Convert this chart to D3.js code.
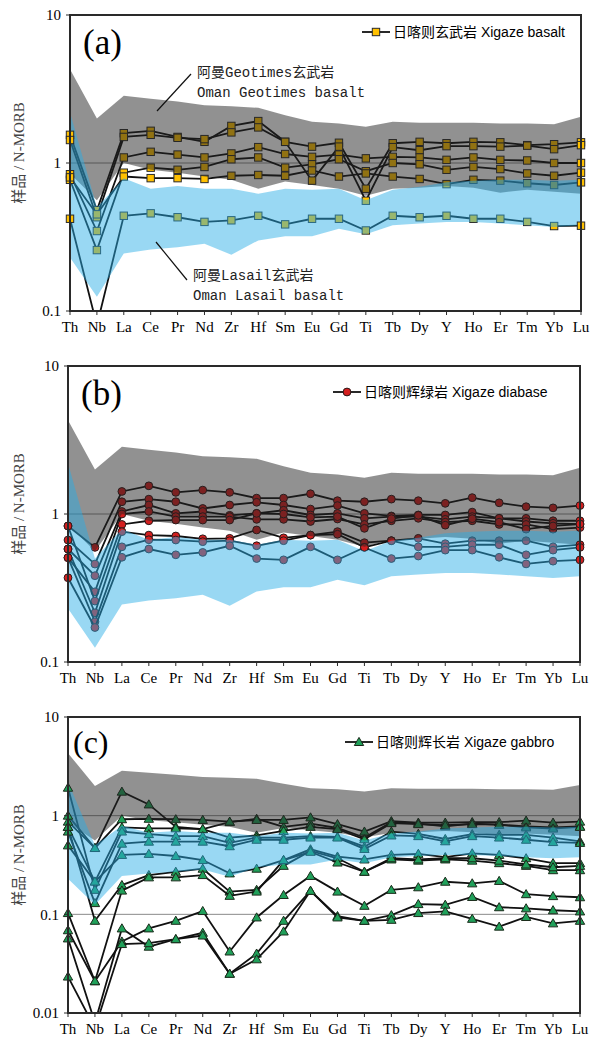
<!DOCTYPE html>
<html>
<head>
<meta charset="utf-8">
<script src="https://cdn.jsdelivr.net/npm/d3@7"></script>
<style>
  body { margin: 0; background: #fff; }
  svg { display: block; }
</style>
</head>
<body>
<div id="chart"></div>
<script>
const elements = ["Th", "Nb", "La", "Ce", "Pr", "Nd", "Zr", "Hf", "Sm", "Eu", "Gd", "Ti", "Tb", "Dy", "Y", "Ho", "Er", "Tm", "Yb", "Lu"];

// reference fields (same in all three panels)
const geotimesUpper = [4.3, 2.0, 2.85, 2.72, 2.6, 2.46, 2.42, 2.36, 2.1, 1.9, 1.85, 1.76, 1.9, 1.87, 1.87, 1.87, 1.85, 1.85, 1.83, 2.05];
const geotimesLower = [0.85, 0.56, 1.0, 0.9, 0.86, 0.81, 0.77, 0.67, 0.75, 0.71, 0.67, 0.6, 0.67, 0.68, 0.7, 0.68, 0.63, 0.66, 0.64, 0.62];
const lasailUpper = [2.2, 0.5, 0.79, 0.67, 0.7, 0.67, 0.67, 0.62, 0.67, 0.66, 0.67, 0.56, 0.66, 0.69, 0.74, 0.76, 0.77, 0.77, 0.76, 0.77];
const lasailLower = [0.23, 0.125, 0.245, 0.26, 0.27, 0.285, 0.24, 0.3, 0.32, 0.32, 0.36, 0.33, 0.38, 0.39, 0.4, 0.4, 0.39, 0.38, 0.37, 0.38];

// (a) Xigaze basalt
const basaltSeries = [
  [1.55, 0.48, 1.59, 1.65, 1.50, 1.39, 1.78, 1.92, 1.39, 1.29, 1.37, 0.67, 1.36, 1.39, 1.36, 1.39, 1.38, 1.32, 1.34, 1.38],
  [1.43, 0.43, 1.50, 1.55, 1.48, 1.45, 1.61, 1.74, 1.39, 0.76, 1.29, 0.556, 1.28, 1.22, 1.30, 1.30, 1.29, 1.31, 1.24, 1.32],
  [0.84, 0.347, 1.09, 1.19, 1.14, 1.09, 1.16, 1.28, 1.15, 1.10, 1.14, 1.075, 1.10, 1.09, 1.05, 1.09, 1.05, 1.04, 1.0, 1.0],
  [0.77, 0.258, 0.86, 0.93, 0.90, 0.94, 1.06, 1.09, 0.93, 0.98, 1.06, 0.88, 1.0, 0.98, 0.90, 0.94, 0.91, 0.85, 0.82, 0.86],
  [0.80, 0.45, 0.81, 0.79, 0.79, 0.78, 0.82, 0.83, 0.82, 0.89, 0.81, 0.85, 0.81, 0.78, 0.72, 0.77, 0.76, 0.73, 0.71, 0.74],
  [0.42, 0.08, 0.44, 0.457, 0.43, 0.40, 0.41, 0.44, 0.385, 0.42, 0.42, 0.35, 0.44, 0.43, 0.44, 0.42, 0.42, 0.40, 0.375, 0.377]
];

// (b) Xigaze diabase
const diabaseSeries = [
  [0.83, 0.595, 1.42, 1.55, 1.40, 1.45, 1.40, 1.28, 1.28, 1.37, 1.23, 1.21, 1.26, 1.23, 1.18, 1.29, 1.19, 1.12, 1.10, 1.14],
  [0.667, 0.459, 1.21, 1.26, 1.21, 1.09, 1.15, 1.20, 1.15, 1.08, 1.14, 1.01, 0.97, 0.985, 0.985, 1.03, 0.935, 0.935, 0.90, 0.90],
  [0.58, 0.383, 1.04, 1.15, 1.01, 1.04, 0.98, 1.01, 1.06, 0.985, 1.01, 0.935, 0.96, 0.96, 0.92, 0.96, 0.935, 0.89, 0.865, 0.855],
  [0.507, 0.298, 1.00, 1.04, 0.96, 0.96, 0.96, 0.92, 0.92, 0.89, 0.925, 0.85, 0.90, 0.935, 0.88, 0.90, 0.85, 0.85, 0.79, 0.81],
  [0.83, 0.258, 0.85, 0.90, 0.91, 0.91, 0.91, 1.01, 1.00, 0.95, 0.96, 0.80, 0.93, 0.98, 0.84, 0.93, 0.88, 0.79, 0.83, 0.855],
  [0.58, 0.215, 0.76, 0.72, 0.71, 0.68, 0.685, 0.78, 0.69, 0.72, 0.76, 0.64, 0.66, 0.685, 0.63, 0.66, 0.66, 0.66, 0.60, 0.62],
  [0.507, 0.187, 0.60, 0.67, 0.667, 0.65, 0.66, 0.61, 0.66, 0.72, 0.73, 0.595, 0.66, 0.60, 0.60, 0.62, 0.62, 0.53, 0.57, 0.595],
  [0.371, 0.171, 0.51, 0.58, 0.53, 0.55, 0.61, 0.50, 0.49, 0.60, 0.49, 0.595, 0.50, 0.52, 0.57, 0.57, 0.51, 0.46, 0.48, 0.49]
];

// (c) Xigaze gabbro
const gabbroSeries = [
  [0.87, 0.47, 1.75, 1.30, 0.77, 0.73, 0.86, 0.93, 0.77, 0.83, 0.75, 0.60, 0.86, 0.83, 0.78, 0.83, 0.81, 0.78, 0.76, 0.78],
  [1.0, 0.47, 0.92, 0.93, 0.92, 0.905, 0.87, 0.905, 0.905, 0.96, 0.82, 0.69, 0.88, 0.85, 0.85, 0.86, 0.86, 0.89, 0.85, 0.87],
  [0.77, 0.215, 0.76, 0.745, 0.745, 0.73, 0.60, 0.63, 0.70, 0.77, 0.73, 0.576, 0.84, 0.82, 0.80, 0.82, 0.81, 0.76, 0.74, 0.77],
  [1.92, 0.177, 0.69, 0.65, 0.62, 0.62, 0.53, 0.60, 0.60, 0.62, 0.61, 0.485, 0.69, 0.655, 0.58, 0.65, 0.64, 0.64, 0.60, 0.55],
  [0.69, 0.13, 0.52, 0.545, 0.545, 0.545, 0.49, 0.57, 0.57, 0.60, 0.60, 0.46, 0.63, 0.62, 0.55, 0.62, 0.60, 0.57, 0.54, 0.53],
  [0.50, 0.215, 0.40, 0.41, 0.39, 0.355, 0.26, 0.29, 0.355, 0.456, 0.385, 0.36, 0.40, 0.41, 0.38, 0.415, 0.40, 0.37, 0.33, 0.33],
  [0.77, 0.086, 0.198, 0.25, 0.27, 0.29, 0.17, 0.177, 0.31, 0.44, 0.37, 0.27, 0.36, 0.35, 0.36, 0.35, 0.33, 0.31, 0.28, 0.28],
  [0.103, 0.021, 0.174, 0.237, 0.237, 0.25, 0.154, 0.17, 0.355, 0.43, 0.335, 0.27, 0.37, 0.36, 0.37, 0.37, 0.35, 0.32, 0.30, 0.31],
  [0.069, 0.021, 0.053, 0.072, 0.086, 0.108, 0.042, 0.093, 0.157, 0.245, 0.17, 0.122, 0.177, 0.188, 0.214, 0.206, 0.218, 0.16, 0.153, 0.149],
  [0.057, 0.008, 0.072, 0.047, 0.056, 0.065, 0.025, 0.04, 0.086, 0.173, 0.096, 0.086, 0.098, 0.127, 0.125, 0.15, 0.118, 0.115, 0.11, 0.107],
  [0.0234, 0.007, 0.05, 0.051, 0.056, 0.061, 0.025, 0.035, 0.067, 0.173, 0.093, 0.086, 0.088, 0.103, 0.107, 0.09, 0.075, 0.094, 0.081, 0.086]
];

const panels = [
  { id: "a", label: "(a)", series: basaltSeries, marker: "square", color: "#ffc000",
    legend: "日喀则玄武岩 Xigaze basalt", left: 70, right: 581, top: 15, bottom: 311, yMin: 0.1,
    legendX: 362, legendY: 32, labelX: 83, labelY: 54, labelSize: 35 },
  { id: "b", label: "(b)", series: diabaseSeries, marker: "circle", color: "#d41f1f",
    legend: "日喀则辉绿岩 Xigaze diabase", left: 68, right: 580, top: 366, bottom: 662, yMin: 0.1,
    legendX: 333, legendY: 392, labelX: 81, labelY: 405, labelSize: 35 },
  { id: "c", label: "(c)", series: gabbroSeries, marker: "triangle", color: "#20a05a",
    legend: "日喀则辉长岩 Xigaze gabbro", left: 68, right: 580, top: 717, bottom: 1013, yMin: 0.01,
    legendX: 345, legendY: 742, labelX: 73, labelY: 753, labelSize: 32 }
];

const serif = "'Liberation Serif', 'Times New Roman', serif";
const sans = "'Liberation Sans', Arial, 'Noto Sans CJK SC', sans-serif";

const svg = d3.select("#chart")
  .append("svg")
  .attr("width", 591)
  .attr("height", 1039);

function drawMarker(sel, type, color, cx, cy) {
  if (type === "square") {
    sel.append("rect")
      .attr("x", cx - 3.7).attr("y", cy - 3.7)
      .attr("width", 7.4).attr("height", 7.4)
      .attr("fill", color).attr("stroke", "#2a2a2a").attr("stroke-width", 1);
  } else if (type === "circle") {
    sel.append("circle")
      .attr("cx", cx).attr("cy", cy).attr("r", 3.9)
      .attr("fill", color).attr("stroke", "#2a1a1a").attr("stroke-width", 1);
  } else {
    sel.append("path")
      .attr("d", d3.symbol(d3.symbolTriangle, 38)())
      .attr("transform", `translate(${cx},${cy + 0.8})`)
      .attr("fill", color).attr("stroke", "#1a2a1a").attr("stroke-width", 1);
  }
}

panels.forEach(p => {
  const x = d3.scalePoint().domain(elements).range([p.left, p.right]);
  const y = d3.scaleLog().domain([p.yMin, 10]).range([p.bottom, p.top]);
  const ticks = p.yMin === 0.01 ? [10, 1, 0.1, 0.01] : [10, 1, 0.1];
  const g = svg.append("g");

  svg.append("clipPath").attr("id", "clip" + p.id)
    .append("rect")
    .attr("x", p.left - 10).attr("y", p.top)
    .attr("width", p.right - p.left + 20).attr("height", p.bottom - p.top);

  // gridlines
  g.selectAll(".grid")
    .data(ticks.filter(t => t < 10 && t > p.yMin))
    .enter().append("line")
    .attr("x1", p.left).attr("x2", p.right)
    .attr("y1", d => y(d)).attr("y2", d => y(d))
    .attr("stroke", "#8a8a8a").attr("stroke-width", 1);

  const line = d3.line()
    .x((d, i) => x(elements[i]))
    .y(d => y(d));

  const inside = v => v >= p.yMin && v <= 10;

  // series lines + inner markers
  p.series.forEach(s => {
    g.append("path")
      .attr("clip-path", `url(#clip${p.id})`)
      .attr("d", line(s))
      .attr("fill", "none")
      .attr("stroke", "#111")
      .attr("stroke-width", 1.8);
    const mg = g.append("g");
    s.forEach((v, i) => {
      if (i === 0 || i === elements.length - 1 || !inside(v)) return;
      drawMarker(mg, p.marker, p.color, x(elements[i]), y(v));
    });
  });

  // reference fields, laid over the data
  const area = (lo, hi) => d3.area()
    .x(i => x(elements[i]))
    .y0(i => y(lo[i]))
    .y1(i => y(hi[i]))(d3.range(elements.length));

  g.append("path")
    .attr("d", area(geotimesLower, geotimesUpper))
    .attr("fill", "#242424").attr("fill-opacity", 0.5);
  g.append("path")
    .attr("d", area(lasailLower, lasailUpper))
    .attr("fill", "#2aaee6").attr("fill-opacity", 0.48);

  // edge markers stay on top
  const eg = g.append("g");
  p.series.forEach(s => {
    [0, elements.length - 1].forEach(i => {
      if (inside(s[i])) drawMarker(eg, p.marker, p.color, x(elements[i]), y(s[i]));
    });
  });

  // frame
  g.append("rect")
    .attr("x", p.left).attr("y", p.top)
    .attr("width", p.right - p.left).attr("height", p.bottom - p.top)
    .attr("fill", "none").attr("stroke", "#2a2a2a").attr("stroke-width", 2);

  // x ticks + labels
  g.selectAll(".xt").data(elements).enter().append("line")
    .attr("x1", d => x(d)).attr("x2", d => x(d))
    .attr("y1", p.bottom).attr("y2", p.bottom + 4)
    .attr("stroke", "#2a2a2a").attr("stroke-width", 1);
  g.selectAll(".xl").data(elements).enter().append("text")
    .attr("x", d => x(d)).attr("y", p.bottom + 21)
    .attr("text-anchor", "middle")
    .style("font-family", serif).style("font-size", "15px")
    .text(d => d);

  // y ticks + labels
  g.selectAll(".yt").data(ticks).enter().append("line")
    .attr("x1", p.left - 4).attr("x2", p.left)
    .attr("y1", d => y(d)).attr("y2", d => y(d))
    .attr("stroke", "#2a2a2a").attr("stroke-width", 1);
  g.selectAll(".yl").data(ticks).enter().append("text")
    .attr("x", p.left - 9).attr("y", d => y(d))
    .attr("dy", "0.35em")
    .attr("text-anchor", "end")
    .style("font-family", serif).style("font-size", "15px")
    .text(d => String(d));

  // y axis title
  g.append("text")
    .attr("transform", `translate(24,${(p.top + p.bottom) / 2 - 10}) rotate(-90)`)
    .attr("text-anchor", "middle")
    .style("font-family", "'Liberation Serif', 'Noto Sans CJK SC', serif")
    .style("font-size", "15px")
    .attr("fill", "#444")
    .text("样品 / N-MORB");

  // panel label
  g.append("text")
    .attr("x", p.labelX).attr("y", p.labelY)
    .style("font-family", serif).style("font-size", p.labelSize + "px")
    .text(p.label);

  // legend
  g.append("line")
    .attr("x1", p.legendX).attr("x2", p.legendX + 28)
    .attr("y1", p.legendY).attr("y2", p.legendY)
    .attr("stroke", "#111").attr("stroke-width", 1.8);
  drawMarker(g, p.marker, p.color, p.legendX + 14, p.legendY);
  g.append("text")
    .attr("x", p.legendX + 31).attr("y", p.legendY)
    .attr("dy", "0.36em")
    .style("font-family", sans).style("font-size", "14px")
    .text(p.legend);

  // field annotations in panel (a)
  if (p.id === "a") {
    const mono = "'Liberation Mono', 'Noto Sans CJK SC', monospace";
    [["阿曼Geotimes玄武岩", 197, 77], ["Oman Geotimes basalt", 197, 97],
     ["阿曼Lasail玄武岩", 193, 280], ["Oman Lasail basalt", 193, 300]].forEach(t => {
      g.append("text")
        .attr("x", t[1]).attr("y", t[2])
        .style("font-family", mono).style("font-size", "14px")
        .attr("fill", "#222")
        .text(t[0]);
    });
    [[157, 111, 191, 74], [156, 242, 187, 280]].forEach(l => {
      g.append("line")
        .attr("x1", l[0]).attr("y1", l[1]).attr("x2", l[2]).attr("y2", l[3])
        .attr("stroke", "#111").attr("stroke-width", 1.2);
    });
  }
});
</script>
</body>
</html>
